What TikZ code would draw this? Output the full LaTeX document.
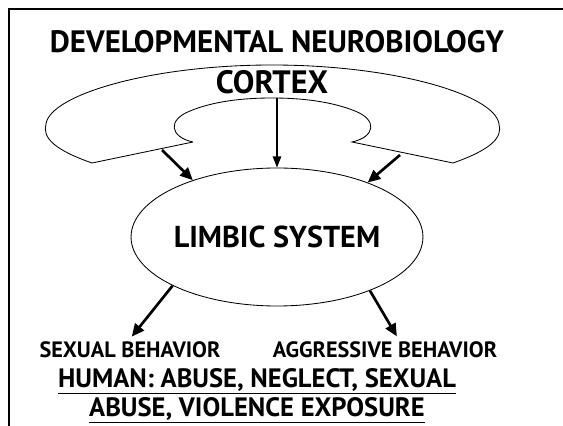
\documentclass[tikz,border=0pt]{standalone}
\usepackage{fontspec}
\setmainfont{PT Sans}
\usetikzlibrary{arrows.meta,shapes.geometric}
\tikzset{
  thinline/.style={line width=0.6pt},
  fatarrow/.style={line width=1.9pt,-{Triangle[length=9pt,width=8pt]}},
  midarrow/.style={line width=1.2pt,-{Triangle[length=8pt,width=6pt]}},
  txt/.style={font=\bfseries\fontsize{#1}{#1}\selectfont,inner sep=2pt},
}
\begin{document}
\begin{tikzpicture}[x=0.25mm,y=-0.25mm]
   \useasboundingbox (0,0) rectangle (563,426);
   % frame
   \draw[line width=1pt] (563,9) -- (9,9) -- (9,426);

   \node[txt=22] (title) at (277,42) {DEVELOPMENTAL NEUROBIOLOGY};
   \node[txt=23] (cortex) at (272,82) {CORTEX};

   % cortex outline
   \draw[thinline] (193,142) -- (92,163)
      .. controls (55,150) and (42,138) .. (46,124)
      .. controls (50,95) and (150,65) .. (272,65)
      .. controls (395,65) and (495,95) .. (499,124)
      .. controls (503,138) and (490,150) .. (453,163)
      -- (352,142)
      .. controls (375,137) and (378,120) .. (355,111)
      .. controls (330,101) and (300,98) .. (272,98)
      .. controls (244,98) and (214,101) .. (190,111)
      .. controls (167,120) and (170,137) .. (193,142);

   \node[draw,thinline,ellipse,minimum width=72.5mm,minimum height=34.5mm,txt=21.5,inner sep=0pt] (limbic) at (277,237) {LIMBIC SYSTEM};

   \coordinate (cl) at (162,150);
   \coordinate (cm) at (277,98);
   \coordinate (cr) at (400,155);
   \draw[fatarrow] (cl) -- (limbic.146);
   \draw[midarrow] (cm) -- (limbic.north);
   \draw[fatarrow] (cr) -- (limbic.31);

   \node[txt=15.8] (sexual) at (130,350) {SEXUAL BEHAVIOR};
   \node[txt=15.8] (aggr) at (385,350) {AGGRESSIVE BEHAVIOR};
   \draw[fatarrow,shorten >=2pt] (limbic.205) -- (sexual.north);
   \draw[fatarrow,shorten >=2pt] (limbic.330) -- (aggr.40);

   \node[font=\bfseries\fontsize{18.9}{21}\selectfont,inner sep=2pt,align=center] (human) at (257,396)
      {\underline{HUMAN: ABUSE, NEGLECT, SEXUAL}\\\underline{ABUSE, VIOLENCE EXPOSURE}};
\end{tikzpicture}
\end{document}
